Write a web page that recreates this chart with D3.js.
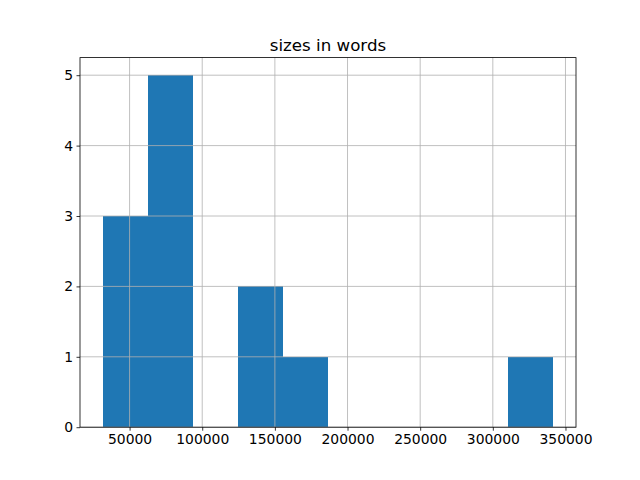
<!DOCTYPE html>
<html><head><meta charset="utf-8">
<script src="https://cdn.jsdelivr.net/npm/d3@7"></script>
<style>body{margin:0;background:#fff}svg{display:block}text{font-family:"DejaVu Sans",sans-serif}</style>
</head><body>
<script>
const title = "sizes in words";
const sizes = [31392, 45000, 55000, 65000, 70000, 78000, 85000, 90000, 130000, 148000, 170000, 341730];
const binCount = 10;
const xTicks = [50000, 100000, 150000, 200000, 250000, 300000, 350000];
const yTicks = [0, 1, 2, 3, 4, 5];

const W = 640, H = 480;
const L = 80, R = 576, T = 57.6, B = 427.2;
const svg = d3.select("body").append("svg").attr("width", W).attr("height", H);

const [mn, mx] = d3.extent(sizes);
const step = (mx - mn) / binCount;
const edges = d3.range(1, binCount).map(i => mn + i * step);
const bins = d3.bin().domain([mn, mx]).thresholds(edges)(sizes);
const ymax = d3.max(bins, b => b.length);

const pad = (mx - mn) * 0.05;
const x = d3.scaleLinear().domain([mn - pad, mx + pad]).range([L, R]);
const y = d3.scaleLinear().domain([0, ymax * 1.05]).range([B, T]);

svg.append("g").attr("shape-rendering", "crispEdges").selectAll("rect").data(bins).join("rect")
  .attr("x", d => x(d.x0)).attr("width", d => x(d.x1) - x(d.x0))
  .attr("y", d => y(d.length)).attr("height", d => B - y(d.length))
  .attr("fill", "#1f77b4");

const grid = svg.append("g").attr("stroke", "#b0b0b0").attr("stroke-width", 0.8);
xTicks.forEach(t => grid.append("line").attr("x1", x(t)).attr("x2", x(t)).attr("y1", T).attr("y2", B));
yTicks.forEach(t => grid.append("line").attr("x1", L).attr("x2", R).attr("y1", y(t)).attr("y2", y(t)));

const xa = svg.append("g").attr("transform", `translate(0,${B})`)
  .call(d3.axisBottom(x).tickValues(xTicks).tickFormat(d3.format("d")).tickSize(3.5).tickPadding(3.5));
const ya = svg.append("g").attr("transform", `translate(${L},0)`)
  .call(d3.axisLeft(y).tickValues(yTicks).tickFormat(d3.format("d")).tickSize(3.5).tickPadding(3.5));
[xa, ya].forEach(a => {
  a.select(".domain").remove();
  a.selectAll("line").attr("stroke", "#000").attr("stroke-width", 0.8);
  a.selectAll("text").attr("font-size", "13.9px").attr("fill", "#000").attr("font-family", "DejaVu Sans");
});

svg.append("rect").attr("x", L).attr("y", T).attr("width", R - L).attr("height", B - T)
  .attr("fill", "none").attr("stroke", "#000").attr("stroke-width", 0.8);

svg.append("text").attr("x", (L + R) / 2).attr("y", T - 7).attr("text-anchor", "middle")
  .attr("font-size", "16.67px").attr("fill", "#000").text(title);
</script>
</body></html>
